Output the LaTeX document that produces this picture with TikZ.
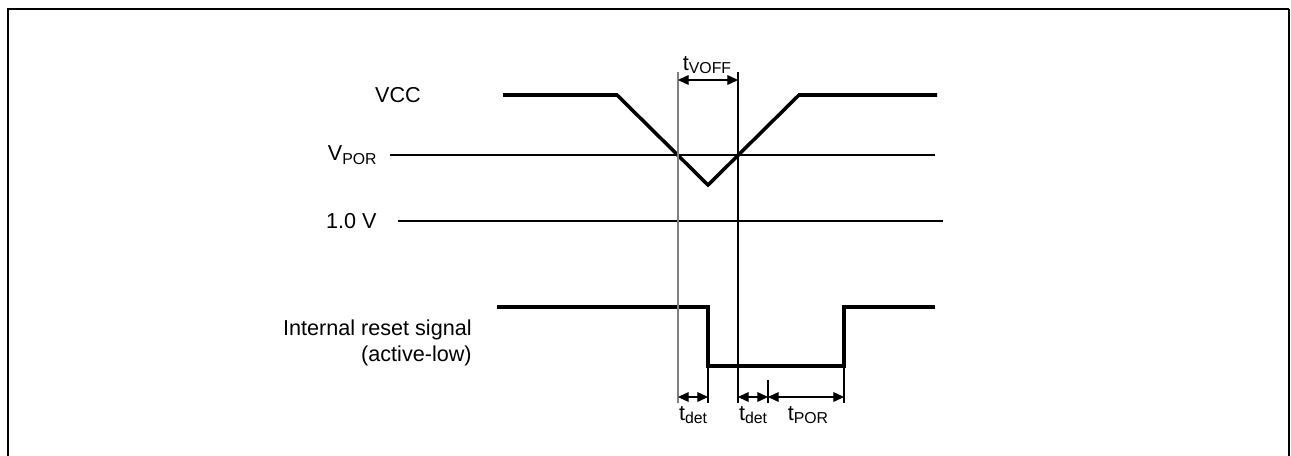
\documentclass[tikz,border=0pt]{standalone}
\usepackage{fontspec}
\setmainfont{Liberation Sans}
\usetikzlibrary{arrows.meta}
\newcommand\lowtext[1]{\raisebox{-0.3ex}{\fontsize{9}{10}\selectfont #1}}
\tikzset{
  signal/.style={line width=2pt,line join=miter},
  level/.style={line width=0.6pt},
  marker/.style={line width=0.6pt},
  span/.style={line width=0.6pt,{Triangle[length=6pt,width=5.5pt]}-{Triangle[length=6pt,width=5.5pt]}},
  lbl/.style={font=\fontsize{12.3}{14.5}\selectfont,inner sep=0pt}
}
\begin{document}
\begin{tikzpicture}[x=0.02cm,y=-0.02cm]
\useasboundingbox (0,0) rectangle (1291,456);
\draw[line width=1.7pt] (8,456) -- (8,9) -- (1289,9);
\draw[line width=0.9pt] (1289,9) -- (1289,456);
\node[lbl] (vcc) at (398,95) {VCC};
\node[lbl,anchor=east] (vpor) at (377,155) {V\lowtext{POR}};
\node[lbl,anchor=east] (vone) at (377,221) {1.0 V};
\node[lbl,anchor=east,align=right] (rst) at (472,343) {Internal reset signal\\(active-low)};
\coordinate (porL) at (390,155);
\coordinate (porR) at (935,155);
\coordinate (oneL) at (398,221);
\coordinate (oneR) at (943,221);
\draw[level] (porL) -- (porR);
\draw[level] (oneL) -- (oneR);
\draw[signal] (503,95) -- (617,95) -- (708,185) -- (799,95) -- (937,95);
\draw[signal] (497,307) -- (708,307) -- (708,366) -- (844,366) -- (844,307) -- (935,307);
\coordinate (offT) at (678,72);
\coordinate (offB) at (678,403);
\coordinate (onT) at (738,72);
\coordinate (onB) at (738,403);
\coordinate (fallT) at (708,366);
\coordinate (fallB) at (708,403);
\coordinate (detT) at (768,380);
\coordinate (detB) at (768,403);
\coordinate (riseT) at (844,366);
\coordinate (riseB) at (844,403);
\draw[marker,color=gray] (offT) -- (offB);
\draw[marker] (onT) -- (onB);
\draw[marker] (fallT) -- (fallB);
\draw[marker] (detT) -- (detB);
\draw[marker] (riseT) -- (riseB);
\coordinate (voffA) at (678,80);
\coordinate (voffB) at (738,80);
\coordinate (detA) at (678,397);
\coordinate (detC) at (708,397);
\coordinate (detD) at (738,397);
\coordinate (detE) at (768,397);
\coordinate (porE) at (844,397);
\draw[span] (voffA) -- (voffB);
\draw[span] (detA) -- (detC);
\draw[span] (detD) -- (detE);
\draw[span] (detE) -- (porE);
\node[lbl] (tvoff) at (707,65) {t\lowtext{VOFF}};
\node[lbl] (tdetA) at (693,415) {t\lowtext{det}};
\node[lbl] (tdetB) at (753,415) {t\lowtext{det}};
\node[lbl] (tpor) at (808,415) {t\lowtext{POR}};
\end{tikzpicture}
\end{document}
